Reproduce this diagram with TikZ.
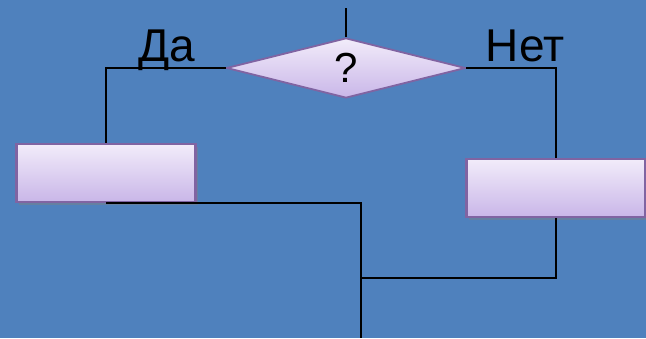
\documentclass[tikz,border=0pt]{standalone}
\usepackage{fontspec}
\setmainfont{Liberation Sans}
\usetikzlibrary{shapes.geometric,shadows}

\definecolor{slideblue}{RGB}{79,129,189}
\definecolor{boxedge}{RGB}{128,100,162}
\definecolor{boxtop}{RGB}{242,236,250}
\definecolor{boxbot}{RGB}{201,182,232}

\tikzset{
    act/.style={rectangle, draw=boxedge, line width=2.5pt,
        top color=boxtop, bottom color=boxbot,
        minimum width=179pt, minimum height=58pt, inner sep=0pt,
        drop shadow={shadow xshift=2pt, shadow yshift=-3pt, opacity=.45}},
    cond/.style={diamond, draw=boxedge, line width=1.8pt,
        top color=boxtop, bottom color=boxbot,
        minimum width=239pt, minimum height=60pt, inner sep=0pt,
        font=\fontsize{42}{50}\selectfont},
    answer/.style={anchor=base, inner sep=0pt, font=\fontsize{46}{54}\selectfont},
    flow/.style={line width=1.6pt, black}
}

\begin{document}
\begin{tikzpicture}[x=1pt, y=-1pt]
    \useasboundingbox (0,0) rectangle (646,338);
    \fill[slideblue] (0,0) rectangle (646,338);

    % 1. Branch and both actions
    \node[cond] (ask) at (346,68) {?};
    \node[act] (yesbox) at (106,173) {};
    \node[act] (nobox) at (556,188) {};

    % 2. Branch labels
    \node[answer] (yes) at (167,61) {Да};
    \node[answer] (no) at (525,61) {Нет};

    % 3. Flow lines
    \coordinate (entry) at (346,8);
    \coordinate (merge) at (361,278);
    \coordinate (exit) at (361,338);

    \draw[flow] (entry) -- (ask.north);
    \draw[flow] (ask.west) -| (yesbox.north);
    \draw[flow] (ask.east) -| (nobox.north);
    \draw[flow] (yesbox.south) -| (merge) -- (exit);
    \draw[flow] (nobox.south) |- (merge);
\end{tikzpicture}
\end{document}
